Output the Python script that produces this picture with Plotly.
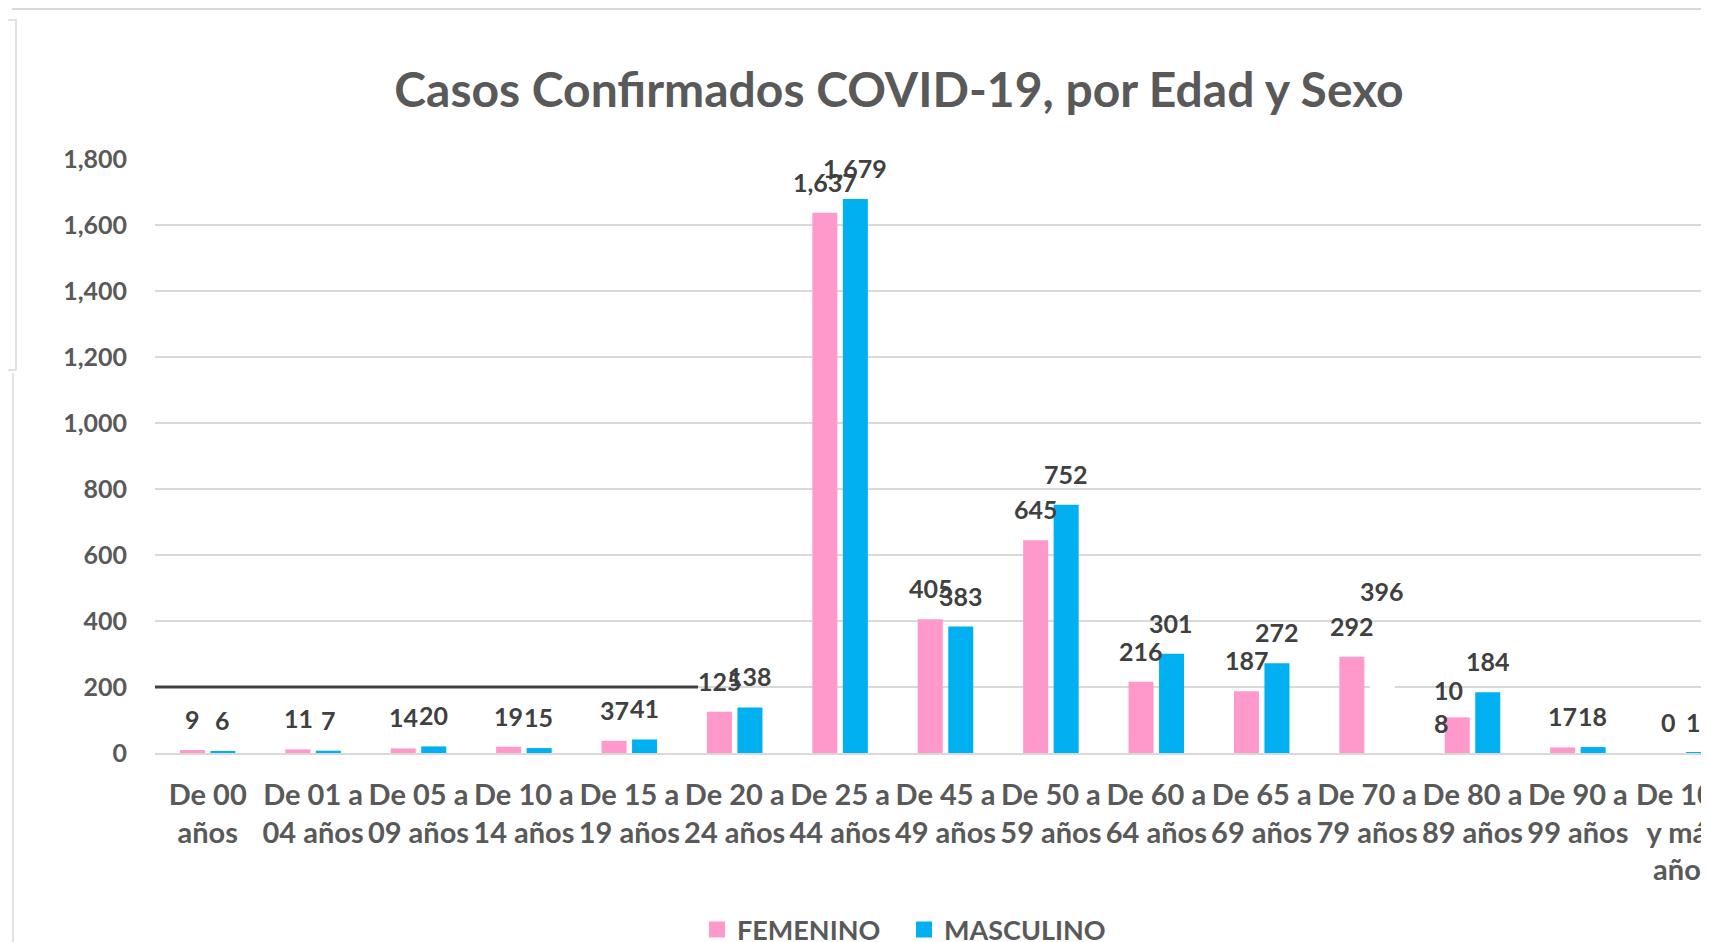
import plotly.graph_objects as go

categories = ["De 00<br>años", "De 01 a<br>04 años", "De 05 a<br>09 años", "De 10 a<br>14 años",
              "De 15 a<br>19 años", "De 20 a<br>24 años", "De 25 a<br>44 años", "De 45 a<br>49 años",
              "De 50 a<br>59 años", "De 60 a<br>64 años", "De 65 a<br>69 años", "De 70 a<br>79 años",
              "De 80 a<br>89 años", "De 90 a<br>99 años", "De 100<br>y más<br>años"]
femenino = [9, 11, 14, 19, 37, 125, 1637, 405, 645, 216, 187, 292, 108, 17, 0]
masculino = [6, 7, 20, 15, 41, 138, 1679, 383, 752, 301, 272, 396, 184, 18, 1]
y_ticks = [0, 200, 400, 600, 800, 1000, 1200, 1400, 1600, 1800]

# page offset: the browser body adds an 8px margin around the figure
OFF = 8
W, H = 1709, 942
ML = 155 - OFF
MT = 159 - OFF
MB = H - (753 - OFF)
MR = 0
CAT_W = 105.4
PINK = "#FF99CC"
BLUE = "#00B0F0"
GRID = "#D9D9D9"
TXT = "#595959"
LBL = "#404040"
FONT = "Lato"
n = len(categories)
x = list(range(n))

plot_w = W - ML - MR
plot_h = H - MT - MB


def px_x(p):
    """page pixel -> paper fraction"""
    return (p - OFF - ML) / plot_w


def px_y(p):
    return (H - MB - (p - OFF)) / plot_h


blue_colors = [BLUE] * n
blue_colors[11] = "#FFFFFF"  # bar painted white in the original

fig = go.Figure()
fig.add_trace(go.Bar(x=x, y=femenino, name="FEMENINO", showlegend=False,
                     marker=dict(color=PINK, line=dict(width=0))))
fig.add_trace(go.Bar(x=x, y=masculino, name="MASCULINO", showlegend=False,
                     marker=dict(color=blue_colors, line=dict(width=0))))
# legend entries with larger square swatches
fig.add_trace(go.Scatter(x=[None], y=[None], mode="markers", name="FEMENINO",
                         marker=dict(symbol="square", size=16, color=PINK)))
fig.add_trace(go.Scatter(x=[None], y=[None], mode="markers", name="MASCULINO",
                         marker=dict(symbol="square", size=16, color=BLUE)))

off = 15.0
lbl_font = dict(family=FONT, size=25, color=LBL, weight="bold")
annots = []
for i in range(n):
    if i == 12:
        s = str(femenino[i])
        annots.append(dict(x=i, y=femenino[i], text=s[:2] + "<br>" + s[2:],
                           xshift=-off - 9, yshift=11, align="left", showarrow=False, font=lbl_font))
    else:
        annots.append(dict(x=i, y=femenino[i], text=f"{femenino[i]:,}", xshift=-off,
                           yshift=31, showarrow=False, font=lbl_font))
    annots.append(dict(x=i, y=masculino[i], text=f"{masculino[i]:,}", xshift=off - (5 if i == 14 else 0),
                       yshift=31, showarrow=False, font=lbl_font))

fig.update_layout(
    width=W, height=H,
    margin=dict(l=ML, r=MR, t=MT, b=MB, autoexpand=False),
    paper_bgcolor="white", plot_bgcolor="white",
    barmode="group", bargap=0.421, bargroupgap=0.18,
    title=dict(text="Casos Confirmados COVID-19, por Edad y Sexo", x=(899 - OFF) / W, xanchor="center",
               y=1 - (90.5 - OFF) / H, yanchor="middle",
               font=dict(family=FONT, size=48, color=TXT, weight="bold")),
    font=dict(family=FONT, color=TXT),
    showlegend=True,
    legend=dict(orientation="h", x=px_x(689 + OFF), xanchor="left", y=px_y(930), yanchor="middle",
                font=dict(family=FONT, size=27, color=TXT, weight="bold"), traceorder="normal",
                entrywidth=162),
    annotations=annots,
)
fig.update_xaxes(type="linear", tickmode="array", tickvals=x, ticktext=categories,
                 range=[-0.5, -0.5 + plot_w / CAT_W], showgrid=False, zeroline=False,
                 showline=True, linecolor=GRID, linewidth=2, ticks="", ticklabelstandoff=15,
                 ticklabeloverflow="allow",
                 tickfont=dict(family=FONT, size=29, color=TXT, weight="bold"))
fig.update_yaxes(range=[0, 1800], tickmode="array", tickvals=y_ticks,
                 ticktext=[f"{v:,}" for v in y_ticks], showgrid=True, gridcolor=GRID, gridwidth=1.5,
                 zeroline=False, showline=False, ticks="", ticklabelstandoff=27,
                 tickfont=dict(family=FONT, size=25, color=TXT, weight="bold"))

shapes = [
    dict(type="line", xref="x", yref="y", x0=-0.5, x1=-0.5 + (698 - 155) / CAT_W, y0=200, y1=200,
         line=dict(color=LBL, width=3), layer="above"),
    dict(type="line", xref="paper", yref="paper", x0=px_x(12), x1=px_x(W + OFF), y0=px_y(9), y1=px_y(9),
         line=dict(color=GRID, width=2)),
    dict(type="rect", xref="paper", yref="paper", x0=px_x(-2), x1=px_x(16), y0=px_y(20), y1=px_y(370),
         line=dict(color=GRID, width=1.5)),
    dict(type="line", xref="paper", yref="paper", x0=px_x(13), x1=px_x(13), y0=px_y(373), y1=px_y(H + OFF),
         line=dict(color=GRID, width=1.5)),
]
fig.update_layout(shapes=shapes)

fig.write_html("out.html")
